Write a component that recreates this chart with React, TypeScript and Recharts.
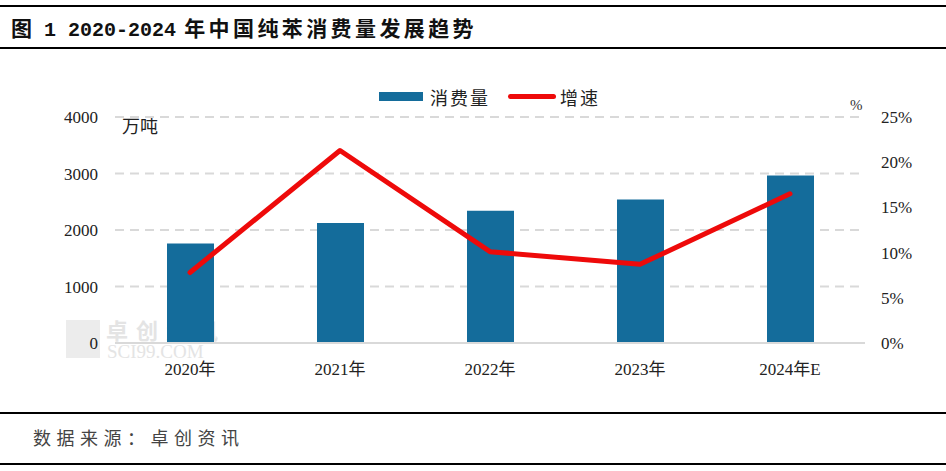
import React from 'react';
import { ComposedChart, Bar, Line, XAxis, YAxis, CartesianGrid } from 'recharts';

const years = ['2020年', '2021年', '2022年', '2023年', '2024年E'];
const consumption = [1760, 2125, 2340, 2540, 2965];
const growth = [7.8, 21.3, 10.1, 8.7, 16.5];
const leftTicks = [0, 1000, 2000, 3000, 4000];
const rightTicks = [0, 5, 10, 15, 20, 25];

const data = years.map((year, i) => ({ year, consumption: consumption[i], growth: growth[i] }));

const serif = '"Liberation Serif", "Noto Sans CJK SC", serif';
const cjk = '"Noto Sans CJK SC", sans-serif';
const mono = '"Liberation Mono", "Noto Sans CJK SC", monospace';

export default function App() {
  return (
    <div style={{ position: 'absolute', left: 0, top: 0, width: 946, height: 471, background: '#fff', fontFamily: cjk }}>
      {/* header / footer rules */}
      <div style={{ position: 'absolute', left: 0, top: 5, width: 946, height: 2, background: '#000' }} />
      <div style={{ position: 'absolute', left: 11, top: 12, fontSize: 20, fontWeight: 700, color: '#111', whiteSpace: 'nowrap', fontFamily: mono }}>
        <span style={{ fontFamily: cjk, fontSize: 21 }}>图</span> 1 2020-2024<span style={{ fontFamily: cjk, fontSize: 21, letterSpacing: 3.4 }}> 年中国纯苯消费量发展趋势</span>
      </div>
      <div style={{ position: 'absolute', left: 0, top: 47, width: 946, height: 2, background: '#000' }} />
      <div style={{ position: 'absolute', left: 0, top: 412, width: 946, height: 2, background: '#000' }} />
      <div style={{ position: 'absolute', left: 33, top: 424, fontSize: 18, color: '#444', letterSpacing: 5.5, whiteSpace: 'nowrap' }}>
        数据来源：卓创资讯
      </div>
      <div style={{ position: 'absolute', left: 0, top: 463, width: 946, height: 2, background: '#000' }} />

      {/* watermark */}
      <div style={{ position: 'absolute', left: 66, top: 320, width: 34, height: 38, background: '#ececec' }} />
      <div style={{ position: 'absolute', left: 106, top: 318, fontSize: 22, lineHeight: '22px', color: '#e4e4e4', fontWeight: 700, letterSpacing: 8, whiteSpace: 'nowrap' }}>
        卓创资讯
      </div>
      <div style={{ position: 'absolute', left: 107, top: 342, fontSize: 19, lineHeight: '19px', color: '#e4e4e4', fontFamily: serif, whiteSpace: 'nowrap' }}>
        SCI99.COM
      </div>

      {/* legend */}
      <div style={{ position: 'absolute', left: 379, top: 92, width: 44, height: 9, background: '#146C9B' }} />
      <div style={{ position: 'absolute', left: 430, top: 84, fontSize: 18, color: '#222', letterSpacing: 2, whiteSpace: 'nowrap' }}>消费量</div>
      <div style={{ position: 'absolute', left: 508, top: 94, width: 48, height: 5, borderRadius: 3, background: '#EE0A0A' }} />
      <div style={{ position: 'absolute', left: 560, top: 84, fontSize: 18, color: '#222', letterSpacing: 2, whiteSpace: 'nowrap' }}>增速</div>

      {/* unit labels */}
      <div style={{ position: 'absolute', left: 122, top: 112, fontSize: 18, color: '#222', whiteSpace: 'nowrap' }}>万吨</div>
      <div style={{ position: 'absolute', left: 850, top: 97, fontSize: 15, color: '#333', fontFamily: serif }}>%</div>

      <ComposedChart
        width={946}
        height={471}
        data={data}
        barCategoryGap={0}
        margin={{ top: 117, right: 21, bottom: 98, left: 55 }}
        style={{ position: 'absolute', left: 0, top: 0 }}
      >
        <CartesianGrid yAxisId="left" vertical={false} stroke="#d9d9d9" strokeWidth={2} strokeDasharray="9 6" />
        <XAxis
          dataKey="year"
          height={30}
          axisLine={{ stroke: '#d9d9d9', strokeWidth: 2 }}
          tickLine={false}
          tickMargin={14}
          tick={{ fill: '#222', fontSize: 17, fontFamily: serif }}
        />
        <YAxis
          yAxisId="left"
          width={60}
          domain={[0, 4000]}
          ticks={leftTicks}
          axisLine={false}
          tickLine={false}
          tickMargin={11}
          tick={{ fill: '#222', fontSize: 17, fontFamily: serif }}
        />
        <YAxis
          yAxisId="right"
          orientation="right"
          width={60}
          domain={[0, 25]}
          ticks={rightTicks}
          tickFormatter={(v: number) => `${v}%`}
          axisLine={false}
          tickLine={false}
          tickMargin={10}
          tick={{ fill: '#222', fontSize: 17, fontFamily: serif }}
        />
        <Bar yAxisId="left" dataKey="consumption" fill="#146C9B" barSize={47} isAnimationActive={false} />
        <Line
          yAxisId="right"
          dataKey="growth"
          stroke="#EE0A0A"
          strokeWidth={5}
          strokeLinecap="round"
          strokeLinejoin="round"
          dot={false}
          activeDot={false}
          isAnimationActive={false}
        />
      </ComposedChart>
    </div>
  );
}
